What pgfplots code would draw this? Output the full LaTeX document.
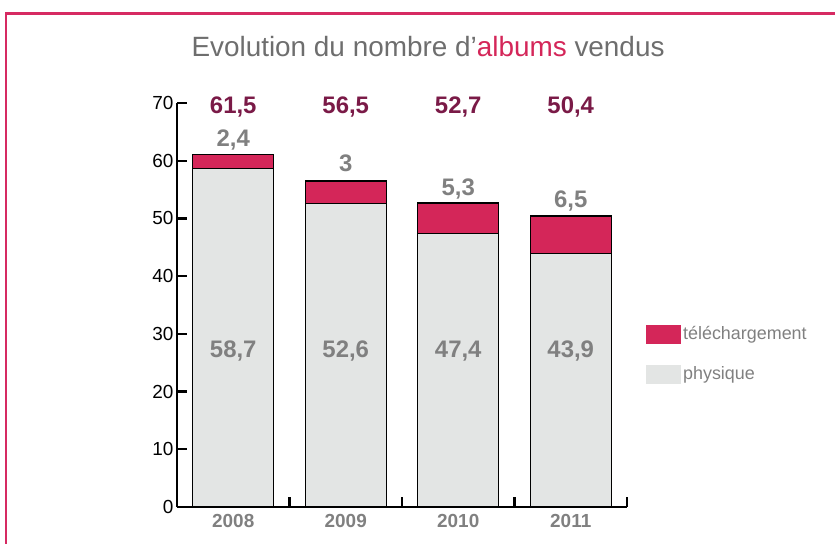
\documentclass[border=0pt]{standalone}
\usepackage{pgfplots}
\pgfplotsset{compat=1.18}
\usepackage{fontspec}
\setmainfont{Liberation Sans}
\definecolor{pinkbar}{HTML}{D42659}
\definecolor{greybar}{HTML}{E3E5E4}
\definecolor{maroon}{HTML}{7A1A47}
\definecolor{lblgray}{HTML}{808080}
\definecolor{titlegray}{HTML}{6E6E6E}
\definecolor{framecol}{HTML}{D62A62}
\pgfplotsset{sqlegend/.style={legend image code/.code={\fill[##1,draw=none] (0bp,-9.5bp) rectangle (35bp,9.5bp);}}}
\begin{document}
\begin{tikzpicture}[
  tot/.style={font=\bfseries\fontsize{24}{26}\selectfont, text=maroon, anchor=base},
  grl/.style={font=\bfseries\fontsize{24}{26}\selectfont, text=lblgray, anchor=base}]
\useasboundingbox (0,0) rectangle (835bp,544bp);
\draw[framecol, line width=2.8bp] (6bp,0) -- (6bp,530.5bp) -- (835bp,530.5bp);
\node[font=\fontsize{28}{30}\selectfont, text=titlegray] at (428bp,497bp) {Evolution du nombre d’\textcolor{pinkbar}{albums} vendus};
\begin{axis}[
  at={(177bp,37bp)}, anchor=south west,
  scale only axis, width=450bp, height=404bp,
  xmin=-0.5, xmax=3.5, ymin=0, ymax=70,
  axis lines=left, axis line style={-, line width=2.4bp},
  ybar stacked, bar width=0.72,
  ytick={0,10,...,70},
  tick align=inside,
  major tick length=10bp,
  tick style={line width=2.4bp, black},
  yticklabel style={font=\fontsize{19}{21}\selectfont},
  /pgf/number format/assume math mode=true,
  xtick={0.5,1.5,2.5,3.5}, xticklabels={},
  extra x ticks={0,1,2,3},
  extra x tick labels={2008,2009,2010,2011},
  extra x tick style={major tick length=0pt, xticklabel style={font=\bfseries\fontsize{19}{21}\selectfont, text=lblgray, yshift=-4bp}},
  clip=false,
  reverse legend,
  legend style={draw=none, fill=none, at={(1.042,0.452)}, anchor=north west,
    inner sep=0pt, row sep=21bp, font=\fontsize{18}{20}\selectfont, text=lblgray},
  legend cell align=left,
]
\addplot[fill=greybar, draw=black, line width=1.4bp, sqlegend]
  coordinates {(0,58.7) (1,52.6) (2,47.4) (3,43.9)};
\addlegendentry{physique}
\addplot[fill=pinkbar, draw=black, line width=1.4bp, sqlegend]
  coordinates {(0,2.4) (1,3.9) (2,5.3) (3,6.5)};
\addlegendentry{téléchargement}
\end{axis}
\begin{axis}[
  at={(177bp,37bp)}, anchor=south west,
  scale only axis, width=450bp, height=404bp,
  xmin=-0.5, xmax=3.5, ymin=0, ymax=70,
  hide axis, clip=false,
]
\node[tot] at (axis cs:0,68.2) {61,5};
\node[tot] at (axis cs:1,68.2) {56,5};
\node[tot] at (axis cs:2,68.2) {52,7};
\node[tot] at (axis cs:3,68.2) {50,4};
\node[grl] at (axis cs:0,62.4) {2,4};
\node[grl] at (axis cs:1,58.1) {3};
\node[grl] at (axis cs:2,53.9) {5,3};
\node[grl] at (axis cs:3,51.9) {6,5};
\node[grl] at (axis cs:0,25.9) {58,7};
\node[grl] at (axis cs:1,25.9) {52,6};
\node[grl] at (axis cs:2,25.9) {47,4};
\node[grl] at (axis cs:3,25.9) {43,9};
\end{axis}
\end{tikzpicture}
\end{document}
